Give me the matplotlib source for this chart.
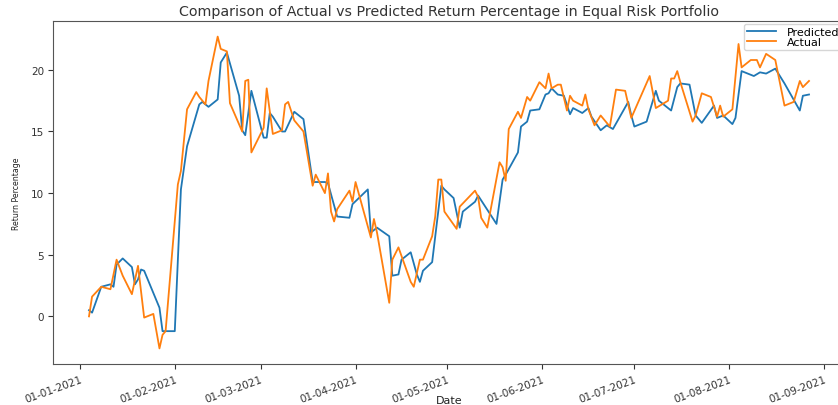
import matplotlib
matplotlib.use("Agg")
import matplotlib.pyplot as plt
import matplotlib.dates as mdates
import pandas as pd

# Actual return percentage
actual_dates = [
    "2021-01-04", "2021-01-05", "2021-01-08", "2021-01-11", "2021-01-13", "2021-01-15",
    "2021-01-18", "2021-01-20", "2021-01-22", "2021-01-25", "2021-01-27", "2021-01-28",
    "2021-01-29", "2021-02-02", "2021-02-03", "2021-02-05", "2021-02-08", "2021-02-09",
    "2021-02-11", "2021-02-12", "2021-02-15", "2021-02-16", "2021-02-18", "2021-02-19",
    "2021-02-23", "2021-02-24", "2021-02-25", "2021-02-26", "2021-03-02", "2021-03-03",
    "2021-03-05", "2021-03-08", "2021-03-09", "2021-03-10", "2021-03-12", "2021-03-15",
    "2021-03-18", "2021-03-19", "2021-03-22", "2021-03-23", "2021-03-24", "2021-03-25",
    "2021-03-26", "2021-03-30", "2021-03-31", "2021-04-01", "2021-04-06", "2021-04-07",
    "2021-04-08", "2021-04-12", "2021-04-13", "2021-04-15", "2021-04-19", "2021-04-20",
    "2021-04-22", "2021-04-23", "2021-04-26", "2021-04-27", "2021-04-28", "2021-04-29",
    "2021-04-30", "2021-05-04", "2021-05-05", "2021-05-10", "2021-05-11", "2021-05-12",
    "2021-05-14", "2021-05-18", "2021-05-19", "2021-05-20", "2021-05-21", "2021-05-24",
    "2021-05-25", "2021-05-27", "2021-05-28", "2021-05-31", "2021-06-02", "2021-06-03",
    "2021-06-04", "2021-06-06", "2021-06-07", "2021-06-09", "2021-06-10", "2021-06-11",
    "2021-06-14", "2021-06-15", "2021-06-16", "2021-06-18", "2021-06-20", "2021-06-23",
    "2021-06-25", "2021-06-28", "2021-06-30", "2021-07-06", "2021-07-08", "2021-07-12",
    "2021-07-13", "2021-07-14", "2021-07-15", "2021-07-16", "2021-07-20", "2021-07-21",
    "2021-07-23", "2021-07-26", "2021-07-28", "2021-07-29", "2021-07-30", "2021-08-02",
    "2021-08-04", "2021-08-05", "2021-08-08", "2021-08-10", "2021-08-11", "2021-08-13",
    "2021-08-16", "2021-08-19", "2021-08-22", "2021-08-24", "2021-08-25", "2021-08-27",
]
actual_values = [
    0.0, 1.6, 2.4, 2.2, 4.6, 3.3,
    1.8, 4.1, -0.1, 0.2, -2.6, -1.5,
    -1.2, 10.7, 11.8, 16.8, 18.2, 17.8,
    17.2, 19.1, 22.7, 21.7, 21.5, 17.3,
    15.0, 19.1, 19.2, 13.3, 15.3, 18.5,
    14.8, 15.1, 17.2, 17.4, 15.9, 15.0,
    10.6, 11.5, 10.0, 11.6, 8.5, 7.7,
    8.7, 10.2, 9.3, 10.9, 6.4, 7.9,
    6.8, 1.1, 4.6, 5.6, 2.8, 2.4,
    4.6, 4.6, 6.5, 8.1, 11.1, 11.1,
    8.5, 7.1, 8.9, 10.2, 9.7, 8.0,
    7.2, 12.5, 12.1, 11.0, 15.2, 16.6,
    16.1, 17.8, 17.5, 19.0, 18.5, 19.7,
    18.5, 18.8, 18.8, 16.7, 17.9, 17.5,
    17.1, 18.0, 16.8, 15.5, 16.3, 15.4,
    18.4, 18.3, 16.1, 19.5, 16.9, 17.5,
    19.3, 19.3, 19.9, 19.0, 15.8, 16.3,
    18.1, 17.8, 16.2, 17.1, 16.2, 16.8,
    22.1, 20.2, 20.8, 20.8, 20.2, 21.3,
    20.8, 17.1, 17.4, 19.1, 18.6, 19.1,
]

# Model-predicted return percentage
predicted_dates = [
    "2021-01-04", "2021-01-05", "2021-01-08", "2021-01-11", "2021-01-12", "2021-01-13",
    "2021-01-15", "2021-01-18", "2021-01-19", "2021-01-20", "2021-01-21", "2021-01-22",
    "2021-01-27", "2021-01-28", "2021-02-01", "2021-02-03", "2021-02-05", "2021-02-09",
    "2021-02-10", "2021-02-12", "2021-02-15", "2021-02-16", "2021-02-18", "2021-02-22",
    "2021-02-23", "2021-02-24", "2021-02-26", "2021-03-02", "2021-03-03", "2021-03-04",
    "2021-03-05", "2021-03-08", "2021-03-09", "2021-03-12", "2021-03-15", "2021-03-18",
    "2021-03-22", "2021-03-23", "2021-03-26", "2021-03-30", "2021-03-31", "2021-04-05",
    "2021-04-06", "2021-04-08", "2021-04-12", "2021-04-13", "2021-04-15", "2021-04-16",
    "2021-04-19", "2021-04-21", "2021-04-22", "2021-04-23", "2021-04-26", "2021-04-29",
    "2021-04-30", "2021-05-03", "2021-05-05", "2021-05-06", "2021-05-10", "2021-05-11",
    "2021-05-17", "2021-05-19", "2021-05-20", "2021-05-24", "2021-05-25", "2021-05-27",
    "2021-05-28", "2021-05-31", "2021-06-02", "2021-06-03", "2021-06-04", "2021-06-06",
    "2021-06-08", "2021-06-10", "2021-06-11", "2021-06-14", "2021-06-16", "2021-06-17",
    "2021-06-20", "2021-06-22", "2021-06-24", "2021-06-29", "2021-06-30", "2021-07-01",
    "2021-07-05", "2021-07-08", "2021-07-09", "2021-07-13", "2021-07-15", "2021-07-16",
    "2021-07-19", "2021-07-21", "2021-07-23", "2021-07-27", "2021-07-28", "2021-07-30",
    "2021-08-02", "2021-08-03", "2021-08-05", "2021-08-06", "2021-08-09", "2021-08-11",
    "2021-08-13", "2021-08-16", "2021-08-19", "2021-08-24", "2021-08-25", "2021-08-27",
]
predicted_values = [
    0.5, 0.3, 2.4, 2.6, 2.4, 4.2,
    4.7, 4.0, 2.6, 3.0, 3.8, 3.7,
    0.7, -1.2, -1.2, 10.3, 13.8, 17.2,
    17.4, 17.0, 17.6, 20.6, 21.4, 17.9,
    15.1, 14.7, 18.3, 14.5, 14.5, 16.5,
    16.2, 15.0, 15.0, 16.6, 16.0, 10.9,
    10.9, 10.8, 8.1, 8.0, 9.1, 10.3,
    6.8, 7.2, 6.5, 3.3, 3.4, 4.6,
    5.2, 3.4, 2.8, 3.7, 4.4, 10.6,
    10.3, 9.6, 7.2, 8.5, 9.3, 9.8,
    7.5, 11.1, 11.5, 13.3, 15.4, 15.8,
    16.7, 16.8, 18.0, 18.1, 18.5, 18.0,
    17.9, 16.4, 16.9, 16.5, 16.9, 16.2,
    15.1, 15.5, 15.2, 17.4, 16.3, 15.4,
    15.8, 18.3, 17.5, 16.7, 18.6, 18.9,
    18.8, 16.3, 15.7, 17.1, 16.1, 16.3,
    15.6, 16.1, 19.9, 19.8, 19.5, 19.8,
    19.7, 20.1, 18.9, 16.7, 17.9, 18.0,
]

title_text = "Comparison of Actual vs Predicted Return Percentage in Equal Risk Portfolio"

fig = plt.figure(figsize=(8.38, 4.06), dpi=100)
ax = fig.add_axes([53 / 838, 41 / 406, 792 / 838, 343 / 406])

ax.plot(pd.to_datetime(predicted_dates), predicted_values,
        color="tab:blue", lw=1.3, label="Predicted")
ax.plot(pd.to_datetime(actual_dates), actual_values,
        color="tab:orange", lw=1.3, label="Actual")

ax.xaxis.set_major_locator(mdates.MonthLocator())
ax.xaxis.set_major_formatter(mdates.DateFormatter("%d-%m-%Y"))
for lbl in ax.get_xticklabels():
    lbl.set_rotation(20)
    lbl.set_ha("right")
    lbl.set_rotation_mode("anchor")
ax.tick_params(axis="x", labelsize=7.5, colors="#333333", pad=4)
ax.tick_params(axis="y", labelsize=7.5, colors="#333333", pad=3)
ax.set_yticks([0, 5, 10, 15, 20])

for sp in ax.spines.values():
    sp.set_color("#555555")

ax.set_title(title_text, fontsize=10.3, color="#333333", pad=4)
ax.set_xlabel("Date", fontsize=8, color="#222222")
ax.xaxis.set_label_coords(0.5, -31 / 343)
ax.set_ylabel("Return Percentage", fontsize=5.6, color="#222222")
ax.yaxis.set_label_coords(-32 / 792, 0.5)

ax.legend(loc="upper right", fontsize=8, handlelength=2.6,
          borderaxespad=0.25, borderpad=0.25, labelspacing=0.05,
          handletextpad=1.0, frameon=True)

fig.savefig("out.png", dpi=100)
